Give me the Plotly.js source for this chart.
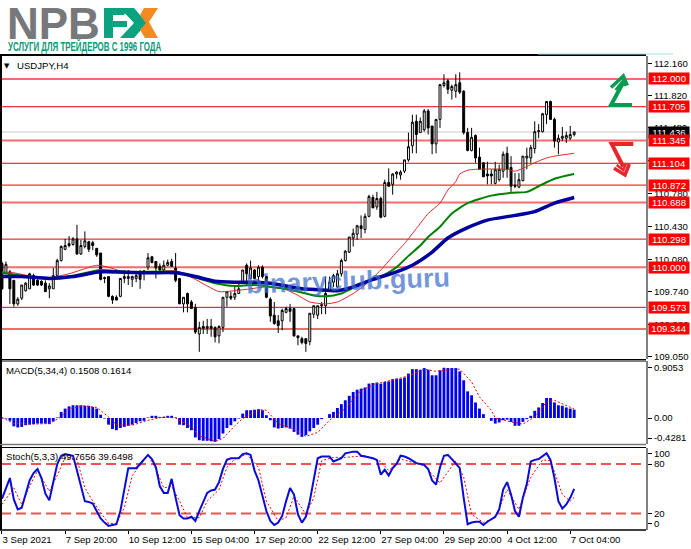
<!DOCTYPE html>
<html><head><meta charset="utf-8">
<script src="https://cdn.plot.ly/plotly-3.0.1.min.js"></script>
<style>html,body{margin:0;padding:0;background:#fff}#c{width:691px;height:549px}
#wrap{position:relative;width:691px;height:549px;overflow:hidden}
#sub{position:absolute;left:8px;top:41px;font:bold 12px/13px "Liberation Sans",Arial,sans-serif;color:#0a9a78;white-space:nowrap;transform-origin:0 0;transform:scaleX(0.66)}</style>
</head><body><div id="wrap"><div id="c"></div><div id="sub">УСЛУГИ ДЛЯ ТРЕЙДЕРОВ С 1996 ГОДА</div></div>
<script>
const opens=[110.04,109.93,109.95,109.86,109.61,109.67,109.75,109.77,109.91,109.86,109.85,109.83,109.77,109.77,109.91,110.07,110.19,110.25,110.24,110.30,110.14,110.22,110.27,110.26,110.20,110.15,109.89,109.90,109.69,109.68,109.69,109.88,109.88,109.87,109.88,109.95,109.94,110.00,110.11,110.06,110.01,109.97,110.02,110.06,109.99,109.88,109.61,109.72,109.63,109.57,109.29,109.37,109.35,109.37,109.36,109.27,109.36,109.68,109.69,109.68,109.72,109.84,110.02,109.88,109.97,109.90,110.00,109.90,109.66,109.49,109.43,109.43,109.52,109.56,109.56,109.27,109.24,109.24,109.21,109.50,109.49,109.59,109.59,109.76,109.84,109.79,109.93,110.07,110.16,110.31,110.35,110.44,110.40,110.54,110.74,110.64,110.73,110.54,110.90,110.88,110.99,110.98,111.02,111.14,111.29,111.55,111.43,111.46,111.66,111.50,111.31,111.57,111.93,111.98,111.88,111.87,111.96,111.87,111.43,111.24,111.40,111.17,111.11,110.99,110.99,110.89,110.93,111.02,111.21,111.06,110.87,110.85,110.92,111.16,111.16,111.26,111.44,111.44,111.62,111.76,111.57,111.33,111.37,111.37,111.37,111.41];
const highs=[110.06,110.06,109.97,109.86,109.68,109.81,109.84,109.94,109.93,109.87,109.86,109.86,109.83,109.99,110.09,110.23,110.30,110.33,110.32,110.45,110.29,110.38,110.28,110.28,110.20,110.15,109.90,109.90,109.70,109.70,109.88,109.97,109.97,109.91,109.93,109.97,109.97,110.15,110.12,110.06,110.04,110.07,110.08,110.09,110.15,109.88,109.68,109.73,109.65,109.61,109.42,109.43,109.45,109.45,109.37,109.38,109.68,109.74,109.74,109.79,109.84,109.97,110.04,110.07,109.98,110.02,110.02,109.90,109.68,109.63,109.49,109.56,109.58,109.61,109.56,109.27,109.26,109.24,109.51,109.59,109.59,109.63,109.90,109.90,109.93,109.97,110.09,110.18,110.32,110.41,110.45,110.55,110.57,110.77,110.77,110.80,110.75,110.93,111.05,111.00,111.02,111.03,111.14,111.43,111.62,111.62,111.59,111.68,111.68,111.50,111.57,111.94,112.05,112.00,111.94,112.05,112.07,111.88,111.48,111.48,111.41,111.27,111.11,111.12,111.04,111.12,111.09,111.23,111.28,111.18,111.00,111.00,111.18,111.27,111.30,111.55,111.52,111.64,111.76,111.77,111.59,111.41,111.49,111.44,111.50,111.44];
const lows=[109.76,109.93,109.61,109.58,109.59,109.65,109.74,109.77,109.80,109.80,109.80,109.74,109.67,109.77,109.90,110.06,110.18,110.21,110.23,110.13,110.13,110.20,110.16,110.18,110.11,109.86,109.83,109.68,109.61,109.65,109.68,109.83,109.81,109.79,109.84,109.77,109.86,109.97,110.04,109.88,109.96,109.96,110.01,110.00,109.84,109.61,109.52,109.52,109.56,109.29,109.10,109.29,109.29,109.26,109.20,109.19,109.31,109.58,109.65,109.65,109.72,109.83,109.81,109.88,109.88,109.84,109.88,109.67,109.42,109.39,109.30,109.33,109.51,109.42,109.26,109.17,109.18,109.10,109.17,109.46,109.45,109.50,109.50,109.75,109.79,109.78,109.90,110.06,110.15,110.22,110.29,110.31,110.36,110.53,110.63,110.61,110.52,110.53,110.86,110.77,110.94,110.93,111.00,111.12,111.21,111.21,111.43,111.44,111.41,111.20,111.21,111.48,111.91,111.84,111.78,111.80,111.84,111.41,111.23,111.23,111.11,111.04,110.96,110.88,110.88,110.88,110.91,110.95,110.95,110.80,110.84,110.84,110.91,111.04,111.11,111.21,111.37,111.43,111.52,111.57,111.27,111.20,111.34,111.32,111.35,111.39];
const closes=[109.77,110.03,109.77,109.61,109.66,109.81,109.83,109.93,109.81,109.81,109.81,109.74,109.80,109.91,110.07,110.22,110.23,110.23,110.30,110.14,110.23,110.28,110.19,110.23,110.13,109.87,109.88,109.69,109.65,109.65,109.88,109.90,109.90,109.90,109.91,109.87,109.96,110.10,110.05,109.99,109.97,110.02,110.05,110.01,109.86,109.61,109.68,109.61,109.56,109.31,109.36,109.35,109.37,109.35,109.26,109.37,109.68,109.74,109.67,109.72,109.77,109.97,109.93,109.99,109.88,110.00,109.90,109.68,109.48,109.40,109.38,109.54,109.56,109.53,109.27,109.25,109.20,109.19,109.51,109.59,109.59,109.60,109.72,109.84,109.91,109.93,110.07,110.17,110.32,110.36,110.44,110.41,110.54,110.75,110.63,110.73,110.53,110.90,110.86,110.99,111.01,111.01,111.14,111.28,111.54,111.41,111.55,111.66,111.48,111.31,111.57,111.94,111.96,111.89,111.92,111.94,111.86,111.43,111.24,111.38,111.16,111.04,110.96,110.97,110.97,111.04,111.04,111.20,111.04,110.86,110.86,110.93,111.18,111.18,111.27,111.44,111.45,111.63,111.76,111.57,111.34,111.37,111.39,111.40,111.41,111.436];
const macdHist=[-0.01,-0.01,-0.05,-0.15,-0.17,-0.16,-0.13,-0.12,-0.11,-0.10,-0.10,-0.10,-0.11,-0.06,0.01,0.11,0.17,0.21,0.23,0.23,0.23,0.22,0.22,0.20,0.17,0.06,-0.01,-0.12,-0.20,-0.22,-0.18,-0.16,-0.14,-0.12,-0.09,-0.06,-0.05,0.01,0.04,0.04,0.02,0.02,0.04,0.04,0.01,-0.12,-0.13,-0.18,-0.22,-0.35,-0.40,-0.41,-0.41,-0.42,-0.4281,-0.38,-0.28,-0.18,-0.13,-0.06,-0.01,0.08,0.14,0.14,0.15,0.16,0.14,0.05,-0.04,-0.17,-0.19,-0.18,-0.17,-0.19,-0.25,-0.30,-0.34,-0.31,-0.24,-0.18,-0.12,-0.02,0.00,0.07,0.11,0.18,0.25,0.32,0.40,0.47,0.51,0.53,0.55,0.62,0.63,0.64,0.62,0.65,0.66,0.70,0.71,0.71,0.73,0.80,0.88,0.88,0.87,0.90,0.87,0.77,0.77,0.86,0.9053,0.90,0.90,0.90,0.84,0.68,0.48,0.41,0.28,0.17,0.07,0.00,-0.05,-0.10,-0.08,-0.04,-0.03,-0.07,-0.14,-0.14,-0.07,-0.02,0.04,0.13,0.19,0.27,0.36,0.36,0.28,0.23,0.22,0.19,0.17,0.1508];
const signalBars=[0,3,8,12,15,17,21,24,27,29,33,37,41,44,48,50,54,56,59,61,65,67,70,74,77,80,83,87,91,95,100,103,107,110,112,116,119,121,124,125,129,132,135,138,140,143,145];
const macdSignal=[0.01,-0.10,-0.11,-0.10,0.02,0.17,0.22,0.19,0.02,-0.12,-0.13,-0.04,0.02,0.00,-0.16,-0.32,-0.42,-0.37,-0.14,-0.01,0.15,0.14,-0.10,-0.20,-0.33,-0.26,-0.04,0.17,0.50,0.62,0.70,0.76,0.88,0.84,0.86,0.88,0.65,0.38,0.14,0.00,-0.07,-0.11,0.02,0.29,0.32,0.23,0.1614];
const stochMain=[38,51,63,37,25,27,43,60,69,74,63,44,36,58,80,90,92,91,90,72,53,35,34,32,23,14,9,5,6,7,23,51,75,75,75,80,85,91,86,76,53,45,45,62,39,18,14,14,16,11,23,35,45,48,49,58,74,85,87,87,87,92,93,91,72,60,41,23,11,6,9,17,35,51,43,19,9,16,35,60,87,89,89,89,83,85,87,93,94,95,95,90,89,88,87,85,67,73,66,75,80,90,89,87,84,81,80,79,74,60,55,76,90,91,86,81,75,39,7,9,10,10,6,10,13,16,25,49,58,43,23,16,39,56,83,85,86,89,93,85,63,35,26,31,39,49.77];
const stochBars=[0,3,5,7,9,12,14,16,19,21,23,27,29,31,33,35,37,39,41,43,45,47,50,52,55,57,59,62,65,67,70,72,74,77,79,81,84,87,92,96,98,101,107,111,115,117,119,122,125,128,131,134,137,139,142,144,145];
const stochSignal=[31,51,31,53,72,47,66,88,86,51,35,8,8,27,66,78,91,74,51,53,35,15,15,35,49,76,86,92,76,35,11,15,41,19,39,84,88,88,90,83,72,86,78,57,84,64,19,9,15,49,25,64,85,84,43,35,39.65];
const maBlueBars=[0,5,12,18,25,37,44,49,54,59,64,68,72,76,80,85,89,94,100,104,109,113,118,123,130,135,140,145];
const maBlue=[109.90,109.90,109.88,109.90,109.95,109.94,109.94,109.90,109.85,109.84,109.84,109.83,109.80,109.77,109.76,109.75,109.79,109.87,109.95,110.02,110.16,110.31,110.42,110.50,110.55,110.59,110.68,110.74];
const maGreenBars=[0,5,12,18,25,31,44,49,54,59,64,72,76,79,82,86,89,93,97,100,103,106,108,111,114,118,124,129,133,136,140,145];
const maGreen=[109.94,109.91,109.88,109.91,109.97,109.95,109.95,109.89,109.83,109.80,109.81,109.77,109.73,109.70,109.69,109.72,109.78,109.86,109.92,110.00,110.12,110.23,110.32,110.43,110.57,110.68,110.76,110.79,110.80,110.86,110.94,110.99];
const maRedBars=[0,3,8,12,17,20,24,27,30,36,44,49,52,55,59,63,67,72,75,78,82,85,89,92,96,100,102,105,108,111,113,115,116,118,120,128,130,132,135,138,140,145];
const maRed=[109.95,109.94,109.90,109.89,109.93,109.97,110.02,110.00,109.96,109.94,109.96,109.87,109.80,109.74,109.75,109.77,109.79,109.76,109.70,109.63,109.61,109.63,109.72,109.81,109.97,110.16,110.25,110.41,110.57,110.68,110.82,110.91,110.99,111.03,111.04,111.04,111.02,111.05,111.11,111.16,111.18,111.21];
const levels=[112.000,111.705,111.345,111.104,110.872,110.688,110.298,110.000,109.573,109.344];
const levelSoft=[true,false,true,false,false,true,false,true,false,true];
const priceTicks=[112.16,111.82,111.48,111.13,110.78,110.43,110.08,109.74,109.39,109.05];
const dateLabels=['3 Sep 2021','7 Sep 20:00','10 Sep 12:00','15 Sep 04:00','17 Sep 20:00','22 Sep 12:00','27 Sep 04:00','29 Sep 20:00','4 Oct 12:00','7 Oct 04:00'];
const dateBars=[0,16,32,48,64,80,96,112,128,144];
const lastPrice=111.436;

const bars=opens.map((_,i)=>i);
const L=1,R=646,T=56,B=530,W=691,H=549;
const fx=p=>(p-L)/(R-L), fy=p=>(B-p)/(B-T);
const dom=(a,b)=>[fy(b),fy(a)];
const FONT='"Liberation Sans",Arial,sans-serif';
const tf={family:FONT,size:9.6,color:'#000'};
const xr=[-0.25,163.2];
const xhidden={range:xr,showticklabels:false,ticks:'',showgrid:false,zeroline:false,showline:false};
const line=(x0,y0,x1,y1,c,w,extra)=>Object.assign({type:'line',xref:'paper',yref:'paper',x0:fx(x0),y0:fy(y0),x1:fx(x1),y1:fy(y1),line:{color:c,width:w}},extra||{});
const poly=(pts,fill)=>({type:'path',xref:'paper',yref:'paper',path:'M'+pts.map(p=>fx(p[0])+','+fy(p[1])).join('L')+'Z',fillcolor:fill,line:{width:0},layer:'above'});
const strokePath=(pts,c,w)=>({type:'path',xref:'paper',yref:'paper',path:'M'+pts.map(p=>fx(p[0])+','+fy(p[1])).join('L'),line:{color:c,width:w},layer:'above',fillcolor:'rgba(0,0,0,0)'});
const note=(text,x,y,o)=>Object.assign({text:text,xref:'paper',yref:'paper',x:fx(x),y:fy(y),showarrow:false,xanchor:'left',yanchor:'middle',font:tf,borderpad:0},o||{});

const shapes=[];
levels.forEach((v,i)=>shapes.push({type:'line',xref:'paper',yref:'y',x0:0,x1:1,y0:v,y1:v,layer:'below',
  line:levelSoft[i]?{color:'rgba(240,50,50,0.72)',width:2}:{color:'#ee0000',width:1}}));
shapes.push({type:'line',xref:'paper',yref:'y',x0:0,x1:1,y0:lastPrice,y1:lastPrice,layer:'below',line:{color:'#c8c8c8',width:1}});
[80,20].forEach(v=>shapes.push({type:'line',xref:'paper',yref:'y3',x0:0,x1:1,y0:v,y1:v,layer:'below',line:{color:'rgba(240,50,50,0.85)',width:2,dash:'10px,5px'}}));
shapes.push(line(0,55,646,55,'#000',2),line(1,55,1,530,'#000',2),line(0,359.5,646,359.5,'#000',1),line(0,361,646,361,'#000',1),
  line(0,444.5,646,444.5,'#777',1.5),line(0,447.5,646,447.5,'#000',1),line(0,530,646,530,'#000',1.5),line(538,54,673,54,'#a8d8f0',1));
shapes.push(
  poly([[104,8],[128,8],[124,15],[113,15],[113,21],[127,21],[127,27],[113,27],[113,38],[104,38]],'#0aa37f'),
  poly([[120,8],[134,8],[147,23],[134,38],[120,38],[134,23]],'#0aa37f'),
  poly([[144,8],[158,8],[149,22],[158,38],[145,38],[140,30],[146,23],[140,15]],'#f58b20'));
shapes.push(
  strokePath([[632,105],[611,105],[623,83]],'#0a9b52',4),
  strokePath([[611,87.5],[623.3,76],[627.3,85.5]],'#0a9b52',3.5),
  strokePath([[615.5,90],[622.7,81],[625,86]],'#0a9b52',2.5),
  strokePath([[633.3,144],[611.7,144],[623.3,166.7]],'#e5262c',4),
  strokePath([[614,168.3],[625,175],[629.3,164]],'#e5262c',3.5),
  strokePath([[616.7,165],[623.3,170],[626,163.3]],'#e5262c',2.5));

const data=[
 {type:'candlestick',x:bars,open:opens,high:highs,low:lows,close:closes,xaxis:'x',yaxis:'y',whiskerwidth:0,
  increasing:{line:{color:'#000',width:1},fillcolor:'#fff'},decreasing:{line:{color:'#000',width:1},fillcolor:'#000'},hoverinfo:'skip'},
 {type:'scatter',mode:'lines',x:maRedBars,y:maRed,xaxis:'x',yaxis:'y',line:{color:'#e02828',width:1,shape:'spline',smoothing:0.6}},
 {type:'scatter',mode:'lines',x:maGreenBars,y:maGreen,xaxis:'x',yaxis:'y',line:{color:'#008000',width:2,shape:'spline',smoothing:0.6}},
 {type:'scatter',mode:'lines',x:maBlueBars,y:maBlue,xaxis:'x',yaxis:'y',line:{color:'#00009c',width:3.5,shape:'spline',smoothing:0.6}},
 {type:'bar',x:bars,y:macdHist,xaxis:'x2',yaxis:'y2',marker:{color:'#0000f0',line:{width:0}},width:0.72},
 {type:'scatter',mode:'lines',x:signalBars,y:macdSignal,xaxis:'x2',yaxis:'y2',line:{color:'#f00000',width:1,dash:'2px,2px'}},
 {type:'scatter',mode:'lines',x:stochBars,y:stochSignal,xaxis:'x3',yaxis:'y3',line:{color:'#f00000',width:1,dash:'2px,2px'}},
 {type:'scatter',mode:'lines',x:bars,y:stochMain,xaxis:'x3',yaxis:'y3',line:{color:'#0a0ad8',width:2}}
];

const yBase={side:'right',showgrid:false,zeroline:false,showline:true,linecolor:'#808080',linewidth:2,ticks:'outside',ticklen:4,tickcolor:'#000',tickwidth:1,tickfont:tf,tickmode:'array',fixedrange:true};
const annotations=[
 note('<b>NPB</b>',6,24,{font:{family:FONT,size:44,color:'#77787b'}}),
 note('USDJPY,H4',16,65.5),
 note('▼',3,65.5,{font:{family:'"DejaVu Sans"',size:7,color:'#000'}}),
 note('MACD(5,34,4) 0.1508 0.1614',5,370),
 note('Stoch(5,3,3) 49.7656 39.6498',5,456),
 note('<b>binaryclub.guru</b>',245,281,{font:{family:FONT,size:27,color:'rgba(62,110,205,0.72)'},textangle:-2})
];
annotations.push({text:'111.436',xref:'paper',yref:'y',x:fx(647.5),y:lastPrice,xanchor:'left',yanchor:'middle',showarrow:false,
  bgcolor:'#000',font:Object.assign({},tf,{color:'#fff'}),width:40,height:11,borderpad:0});
levels.forEach(v=>annotations.push({text:v.toFixed(3),xref:'paper',yref:'y',x:fx(647.5),y:v,xanchor:'left',yanchor:'middle',showarrow:false,
  bgcolor:'#f00',font:Object.assign({},tf,{color:'#fff'}),width:40,height:11,borderpad:0}));

const layout={width:W,height:H,margin:{l:L,r:W-R,t:T,b:H-B,pad:0},paper_bgcolor:'#fff',plot_bgcolor:'#fff',showlegend:false,hovermode:false,bargap:0.25,barmode:'overlay',
 xaxis:Object.assign({},xhidden,{anchor:'y',rangeslider:{visible:false}}),
 xaxis2:Object.assign({},xhidden,{anchor:'y2'}),
 xaxis3:{range:xr,anchor:'y3',tickmode:'array',tickvals:dateBars,ticktext:dateLabels,tickfont:tf,tickangle:0,ticks:'outside',ticklen:3,tickcolor:'#000',showgrid:false,zeroline:false,showline:false,ticklabelposition:'outside right'},
 yaxis:Object.assign({},yBase,{domain:dom(56,359),range:[109.024,112.244],tickvals:priceTicks,ticktext:priceTicks.map(v=>v.toFixed(3))}),
 yaxis2:Object.assign({},yBase,{domain:dom(361,444),range:[-0.468,1.027],tickvals:[0.9053,0,-0.36],ticktext:['0.9053','0.00','-0.4281']}),
 yaxis3:Object.assign({},yBase,{domain:dom(447.5,530),range:[0,100],tickvals:[93,80,20,7.3],ticktext:['100','80','20','0']}),
 shapes:shapes,annotations:annotations};
Plotly.newPlot('c',data,layout,{displayModeBar:false,staticPlot:true});
</script></body></html>
